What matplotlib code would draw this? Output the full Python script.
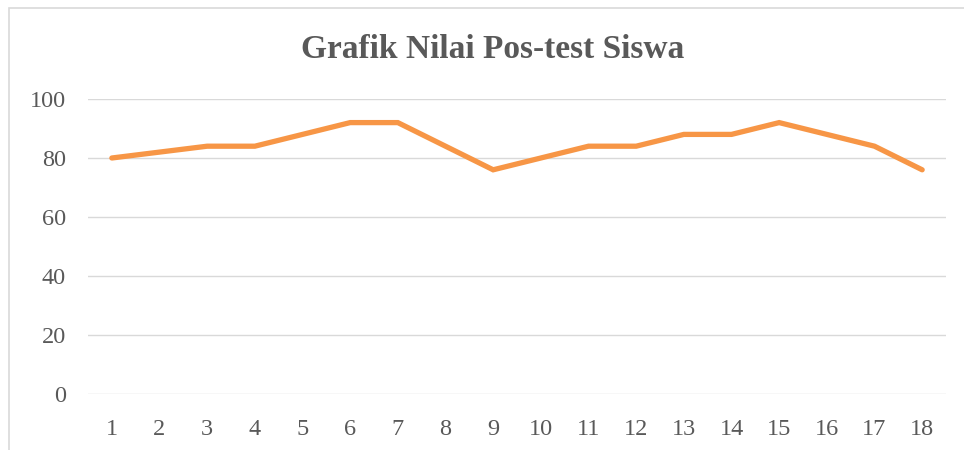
#line chart of post-test scores per student
import matplotlib.pyplot as plt
from matplotlib.patches import Rectangle

#data
siswa = list(range(1, 19))
nilai = [80, 82, 84, 84, 88, 92, 92, 84, 76, 80, 84, 84, 88, 88, 92, 88, 84, 76]
y_ticks = [0, 20, 40, 60, 80, 100]

plt.rcParams['font.family'] = ['Liberation Serif', 'DejaVu Serif']

fig = plt.figure(figsize=(9.64, 4.5), dpi=100)
ax = fig.add_axes([88 / 964, 1 - 394 / 450, (946 - 88) / 964, (394 - 99) / 450])

#chart border (cropped on right and bottom like the screenshot)
fig.patches.append(Rectangle((9 / 964, -0.1), 1.2, 1 - 8 / 450 + 0.1, transform=fig.transFigure,
                             fill=False, edgecolor="#d9d9d9", linewidth=1.2))

ax.plot(siswa, nilai, color="#f79646", linewidth=3.8, solid_capstyle="round", solid_joinstyle="miter")

ax.set_xlim(0.5, 18.5)
ax.set_ylim(0, 100)
ax.set_yticks(y_ticks)
ax.set_xticks(siswa)
ax.grid(True, axis="y", color="#d9d9d9", linewidth=1)
ax.set_axisbelow(True)
for s in ax.spines.values():
    s.set_visible(False)
ax.tick_params(length=0, labelsize=17.5, colors="#595959")
ax.tick_params(axis="x", pad=18)
ax.tick_params(axis="y", pad=16)

fig.text(493 / 964, 1 - 49 / 450, "Grafik Nilai Pos-test Siswa", ha="center", va="center",
         fontsize=24, fontweight="bold", color="#595959")

fig.savefig("out.png", dpi=100)
